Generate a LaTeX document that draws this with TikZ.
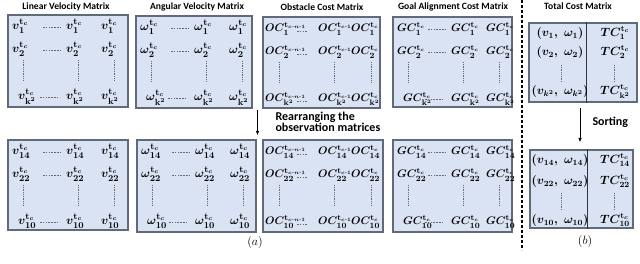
\documentclass[tikz,border=0pt]{standalone}
\usepackage{fontspec}
\usepackage{amsmath}
\usepackage{tikz}
\usetikzlibrary{arrows.meta,calc}
\newfontfamily\capfont{Carlito}
\definecolor{cellbg}{RGB}{218,227,243}
\definecolor{celledge}{RGB}{96,106,122}
\definecolor{dotgray}{RGB}{105,105,105}

\tikzset{
  mbox/.style={fill=cellbg, draw=celledge, line width=1.1pt, inner sep=0pt},
  ent/.style={anchor=base west, inner sep=0pt,
              font=\fontsize{#1}{15}\selectfont\boldmath},
  ent/.default=13,
  tent/.style={anchor=base, inner sep=0pt,
               font=\fontsize{12}{15}\selectfont\boldmath},
  mtitle/.style={font=\capfont\bfseries\fontsize{9.6}{12}\selectfont},
  lbl/.style={font=\capfont\bfseries\fontsize{12}{11}\selectfont, align=left},
  rowdash/.style={draw=dotgray, dash pattern=on 1.6pt off 1.2pt, line width=0.5pt},
  coldots/.style={draw=dotgray, dash pattern=on 0.8pt off 1pt, line width=0.8pt},
  divline/.style={draw=black!80, line width=0.8pt},
  sepline/.style={line width=1.2pt, dash pattern=on 3pt off 2pt},
  arr/.style={-{Latex[length=4.5pt,width=3.5pt]}, line width=0.9pt},
}

\begin{document}
\begin{tikzpicture}[x=1pt, y=-1pt]
  \useasboundingbox (0,0) rectangle (640,264);

  % titles
  \node[mtitle] (tLin) at (66,7) {Linear Velocity Matrix};
  \node[mtitle] (tAng) at (197,7) {Angular Velocity Matrix};
  \node[mtitle] (tObs) at (322,7) {Obstacle Cost Matrix};
  \node[mtitle] (tGoal) at (453,7) {Goal Alignment Cost Matrix};
  \node[mtitle] (tTot) at (578,6) {Total Cost Matrix};

  % velocity and goal matrices
  \foreach \nm/\bx/\by/\w/\h/\sym/\fs/\sa/\sb/\sc in {
      linTop/8/15/120/92/v/13/1/2/k^2, angTop/136/16/116/92/\omega/13/1/2/k^2,
      gcTop/393/17/119/90/GC/11/1/2/k^2, linBot/8/140/120/90/v/13/14/22/10,
      angBot/137/140/119/92/\omega/13/14/22/10, gcBot/393/140/119/92/GC/11/14/22/10}{
    \begin{scope}[shift={(\bx,\by)}]
      \node[mbox, minimum width=\w, minimum height=\h] (\nm) at (\w/2,\h/2) {};
      \foreach \r/\yy/\dx [count=\i] in {\sa/15/0, \sb/38/0, \sc/85/6}{
        \node[ent=\fs] (\nm-\i-1) at (4+\dx,\yy) {$\sym^{\mathbf{t}_c}_{\mathbf{\r}}$};
        \node[ent=\fs] (\nm-\i-2) at (58,\yy) {$\sym^{\mathbf{t}_c}_{\mathbf{\r}}$};
        \node[ent=\fs] (\nm-\i-3) at (93,\yy) {$\sym^{\mathbf{t}_c}_{\mathbf{\r}}$};
        \draw[rowdash] (35-\dx/2,\yy-3) -- (52-\dx/2,\yy-3);
      }
      \foreach \xx in {15,70,106}
        \draw[coldots] (\xx,45) -- (\xx,66);
    \end{scope}
  }

  % obstacle matrices
  \foreach \nm/\bx/\by/\w/\h/\sa/\sb/\sc in {
      obsTop/263/17/117/91/1/2/k^2, obsBot/263/140/120/92/14/22/10}{
    \begin{scope}[shift={(\bx,\by)}]
      \node[mbox, minimum width=\w, minimum height=\h] (\nm) at (\w/2,\h/2) {};
      \foreach \r/\yy [count=\i] in {\sa/15, \sb/38, \sc/85}{
        \node[ent=11] (\nm-\i-1) at (2,\yy)
          {$OC^{\mathbf{t}_{c\text{-}n\text{-}1}}_{\mathbf{\r}}$};
        \node[ent=11] (\nm-\i-2) at (55,\yy)
          {$OC^{\mathbf{t}_{c\text{-}1}}_{\mathbf{\r}}$};
        \node[ent=11] (\nm-\i-3) at (88,\yy) {$OC^{\mathbf{t}_c}_{\mathbf{\r}}$};
        \draw[rowdash] (34,\yy-1) -- (44,\yy-1);
      }
      \foreach \xx in {16,71,108}
        \draw[coldots] (\xx,45) -- (\xx,66);
    \end{scope}
  }

  % total cost matrices
  \node[mbox, minimum width=108, minimum height=79] (totTop) at (583,62.5) {};
  \node[mbox, minimum width=103, minimum height=78] (totBot) at (581.5,189) {};
  \draw[divline] ([xshift=58pt]totTop.north west) -- ([xshift=58pt]totTop.south west);
  \draw[divline] ([xshift=58pt]totBot.north west) -- ([xshift=58pt]totBot.south west);
  \foreach \r/\yy [count=\i] in {1/37, 2/56, k^2/95}{
    \node[tent] (totTop-\i-1) at (560,\yy) {$(v_{\r},\ \omega_{\r})$};
    \node[tent] (totTop-\i-2) at (615,\yy) {$TC^{\mathbf{t}_c}_{\mathbf{\r}}$};
  }
  \foreach \r/\yy [count=\i] in {14/164, 22/185, 10/224}{
    \node[tent] (totBot-\i-1) at (560,\yy) {$(v_{\r},\ \omega_{\r})$};
    \node[tent] (totBot-\i-2) at (615,\yy) {$TC^{\mathbf{t}_c}_{\mathbf{\r}}$};
  }
  \foreach \xx in {561,614}{
    \draw[coldots] (\xx,65) -- (\xx,82);
    \draw[coldots] (\xx,193) -- (\xx,210);
  }

  % separator
  \draw[sepline] (522,0) -- (522,250);

  % arrows
  \coordinate (rearrA) at ($(angTop.south east)!.5!(obsTop.south west)$);
  \coordinate (rearrB) at ($(angBot.north east)!.5!(obsBot.north west)$);
  \draw[arr, shorten <=1pt, shorten >=4pt] (rearrA) -- (rearrA |- rearrB);
  \node[lbl, anchor=west] (rearrLbl) at (272,122) {Rearranging the\\observation matrices};
  \draw[arr, shorten <=5pt, shorten >=7pt] ([xshift=-3pt]totTop.south)
    -- ([xshift=-3pt]totTop.south |- totBot.north);
  \node[lbl, anchor=west] (sortLbl) at (589,122) {Sorting};

  % sub labels
  \node[font=\fontsize{12}{14}\selectfont] (labA) at (255,243) {$(a)$};
  \node[font=\fontsize{12}{14}\selectfont] (labB) at (585,242) {$(b)$};
\end{tikzpicture}
\end{document}
